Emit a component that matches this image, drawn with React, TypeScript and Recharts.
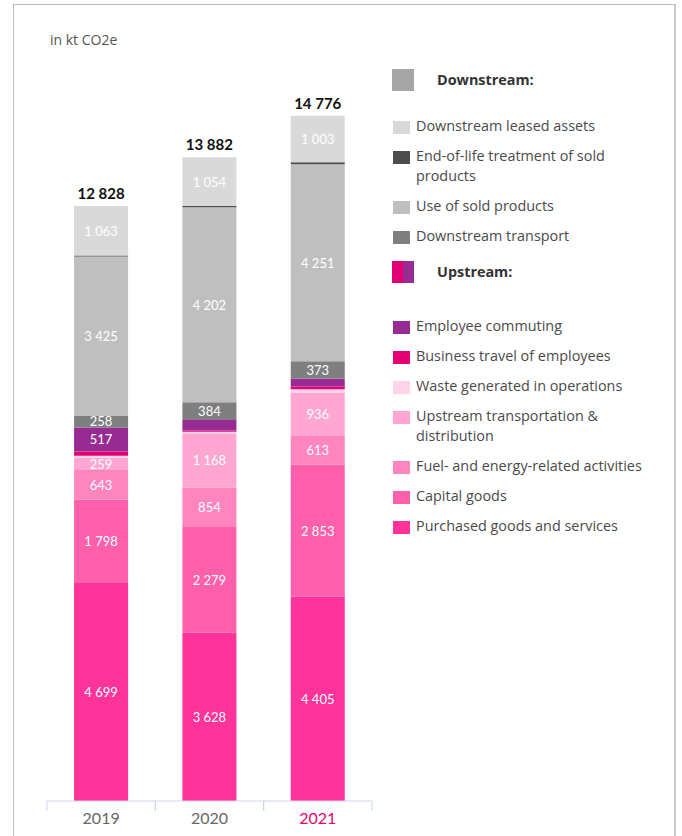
import { BarChart, Bar, XAxis, YAxis, LabelList } from "recharts";

const years = ["2019", "2020", "2021"];
const totals = [12828, 13882, 14776];

// upstream (bottom of the stack)
const purchasedGoods = [4699, 3628, 4405];
const capitalGoods = [1798, 2279, 2853];
const fuelEnergy = [643, 854, 613];
const upstreamTransport = [259, 1168, 936];
const wasteGenerated = [45, 33, 72];
const businessTravel = [95, 25, 58];
const employeeCommuting = [517, 230, 170];
// downstream
const downstreamTransport = [258, 384, 373];
const useOfSoldProducts = [3425, 4202, 4251];
const endOfLife = [26, 25, 42];
const leasedAssets = [1063, 1054, 1003];

const series = [
  { key: "purchased", name: "Purchased goods and services", values: purchasedGoods, color: "#ff3399" },
  { key: "capital", name: "Capital goods", values: capitalGoods, color: "#ff5fab" },
  { key: "fuel", name: "Fuel- and energy-related activities", values: fuelEnergy, color: "#ff85bf" },
  { key: "upTransport", name: "Upstream transportation & distribution", values: upstreamTransport, color: "#ffa6d2" },
  { key: "waste", name: "Waste generated in operations", values: wasteGenerated, color: "#ffd3e8" },
  { key: "travel", name: "Business travel of employees", values: businessTravel, color: "#e20074" },
  { key: "commuting", name: "Employee commuting", values: employeeCommuting, color: "#982b93" },
  { key: "downTransport", name: "Downstream transport", values: downstreamTransport, color: "#7f7f7f" },
  { key: "useSold", name: "Use of sold products", values: useOfSoldProducts, color: "#bfbfbf" },
  { key: "endOfLife", name: "End-of-life treatment of sold products", values: endOfLife, color: "#4d4d4d" },
  { key: "leased", name: "Downstream leased assets", values: leasedAssets, color: "#d9d9d9" },
];

const data = years.map((year, i) => {
  const row: Record<string, string | number> = { year, total: totals[i] };
  series.forEach((s) => {
    row[s.key] = s.values[i];
  });
  return row;
});

const downstreamLegend = ["leased", "endOfLife", "useSold", "downTransport"];
const upstreamLegend = ["commuting", "travel", "waste", "upTransport", "fuel", "capital", "purchased"];

const CHART_W = 400;
const CHART_H = 836;
const MARGIN = { top: 59, right: 28, left: 47, bottom: 0 };
const HALF_BAND = (CHART_W - MARGIN.left - MARGIN.right) / years.length / 2;

const fmt = (v: number) => String(v).replace(/\B(?=(\d{3})+(?!\d))/g, " ");

const SegmentLabel = (props: any) => {
  const { x, y, width, height, value } = props;
  if (value == null || Number(value) < 250) return null;
  return (
    <text
      x={Number(x) + Number(width) / 2}
      y={Number(y) + Number(height) / 2}
      textAnchor="middle"
      dominantBaseline="central"
      fill="#ffffff"
      fontSize={13}
      fontFamily="Lato"
    >
      {fmt(Number(value))}
    </text>
  );
};

const TotalLabel = (props: any) => {
  const { x, y, width, value } = props;
  return (
    <text
      x={Number(x) + Number(width) / 2}
      y={Number(y) - 7}
      textAnchor="middle"
      fill="#111"
      fontSize={15}
      fontWeight={700}
      fontFamily="Lato"
    >
      {fmt(Number(value))}
    </text>
  );
};

const YearTick = (props: any) => {
  const { x, y, payload, index } = props;
  const last = index === years.length - 1;
  return (
    <g>
      <line x1={x - HALF_BAND} x2={x - HALF_BAND} y1={y} y2={y + 10} stroke="#ccd6eb" />
      <line x1={x + HALF_BAND} x2={x + HALF_BAND} y1={y} y2={y + 10} stroke="#ccd6eb" />
      <text
        x={x}
        y={y + 23}
        textAnchor="middle"
        fontSize={16}
        fontFamily="Lato"
        fill={last ? "#e20074" : "#666666"}
      >
        {payload.value}
      </text>
    </g>
  );
};

const byKey = (k: string) => series.find((s) => s.key === k)!;

const legendText = { fontFamily: "'Open Sans'", fontSize: 14.4, color: "#4a4a4a", lineHeight: "20px" };

const LegendRow = ({ k }: { k: string }) => {
  const s = byKey(k);
  const twoLine = s.key === "endOfLife" || s.key === "upTransport";
  let label: any = s.name;
  if (s.key === "endOfLife") label = <>End-of-life treatment of sold<br />products</>;
  if (s.key === "upTransport") label = <>Upstream transportation &amp;<br />distribution</>;
  return (
    <div style={{ display: "flex", alignItems: "flex-start", marginBottom: 10, height: twoLine ? 40 : 20 }}>
      <div style={{ width: 17, height: 13, background: s.color, marginTop: 5, marginLeft: 1, flexShrink: 0 }} />
      <div style={{ ...legendText, marginLeft: 6, whiteSpace: "nowrap" }}>{label}</div>
    </div>
  );
};

const LegendHeader = ({ title, swatch }: { title: string; swatch: any }) => (
  <div style={{ display: "flex", alignItems: "center", height: 22 }}>
    {swatch}
    <div style={{ ...legendText, fontWeight: 700, color: "#333", marginLeft: 23 }}>{title}</div>
  </div>
);

export default function App() {
  return (
    <div style={{ position: "absolute", left: 0, top: 0, width: 682, height: 836, overflow: "hidden", background: "#fff" }}>
      <div
        style={{
          position: "absolute",
          left: 13,
          top: 4,
          width: 660,
          height: 900,
          borderLeft: "1px solid #bdbdbd",
          borderTop: "1px solid #bdbdbd",
          borderRight: "2px solid #c9c9c9",
        }}
      />
      <div style={{ position: "absolute", left: 50, top: 30, fontFamily: "'Open Sans'", fontSize: 14, color: "#555" }}>
        in kt CO2e
      </div>
      <div style={{ position: "absolute", left: 0, top: 0 }}>
        <BarChart width={CHART_W} height={CHART_H} data={data} margin={MARGIN} barCategoryGap="25%">
          <XAxis
            dataKey="year"
            height={35}
            axisLine={{ stroke: "#ccd6eb" }}
            tickLine={false}
            tickSize={0}
            tickMargin={0}
            tick={<YearTick />}
            interval={0}
          />
          <YAxis
            width={0}
            domain={[0, 16000]}
            tick={false}
            tickLine={false}
            axisLine={{ stroke: "#d6d6d6" }}
          />
          {series.map((s, i) => (
            <Bar key={s.key} dataKey={s.key} name={s.name} stackId="a" fill={s.color} isAnimationActive={false}>
              <LabelList dataKey={s.key} content={<SegmentLabel />} />
              {i === series.length - 1 && <LabelList dataKey="total" content={<TotalLabel />} />}
            </Bar>
          ))}
        </BarChart>
      </div>
      <div style={{ position: "absolute", left: 392, top: 69 }}>
        <LegendHeader title="Downstream:" swatch={<div style={{ width: 22, height: 22, background: "#a6a6a6" }} />} />
        <div style={{ height: 25 }} />
        {downstreamLegend.map((k) => (
          <LegendRow key={k} k={k} />
        ))}
        <div style={{ height: 5 }} />
        <LegendHeader
          title="Upstream:"
          swatch={
            <div style={{ display: "flex", width: 22, height: 22 }}>
              <div style={{ width: 11, background: "#e20074" }} />
              <div style={{ width: 11, background: "#982b93" }} />
            </div>
          }
        />
        <div style={{ height: 33 }} />
        {upstreamLegend.map((k) => (
          <LegendRow key={k} k={k} />
        ))}
      </div>
    </div>
  );
}
